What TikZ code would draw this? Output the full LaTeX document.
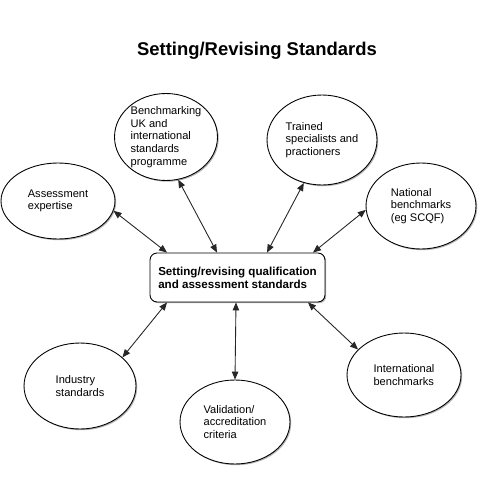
\documentclass[tikz,border=0pt]{standalone}
\usepackage{fontspec}
\setmainfont{Liberation Sans}
\usetikzlibrary{arrows.meta,shapes.geometric,shadows}

\begin{document}
\begin{tikzpicture}[x=0.02cm,y=-0.02cm,>={Triangle[length=1.6mm,width=1.3mm]},line cap=round,
  bubble/.style={ellipse,draw,line width=0.5pt,fill=white,inner sep=-3pt,align=left,
    font=\fontsize{6.3}{7.2}\selectfont,
    drop shadow={shadow xshift=0.7pt,shadow yshift=-0.7pt,fill=black!30,opacity=1}},
  hubbox/.style={rectangle,rounded corners=4pt,draw,line width=0.5pt,fill=white,align=left,
    font=\fontsize{6.6}{7.4}\selectfont\bfseries,minimum width=3.5cm,minimum height=0.98cm,
    drop shadow={shadow xshift=0.7pt,shadow yshift=-0.7pt,fill=black!30,opacity=1}},
  link/.style={<->,line width=0.5pt,black!85}]
\fill[white] (0,0) rectangle (500,500);
\node[font=\fontsize{10.5}{12}\selectfont\bfseries] (title) at (257,51) {Setting/Revising Standards};
\node[hubbox] (hub) at (237.5,277.5) {Setting/revising qualification\\and assessment standards};
% satellites
\node[bubble,minimum width=2.28cm,minimum height=1.52cm] (assess) at (58,201) {Assessment\\expertise};
\node[bubble,minimum width=2.06cm,minimum height=1.74cm] (bench) at (166,137) {Benchmarking\\UK and\\international\\standards\\programme};
\node[bubble,minimum width=2.2cm,minimum height=1.8cm] (trained) at (322,140) {Trained\\specialists and\\practioners};
\node[bubble,minimum width=2.2cm,minimum height=1.72cm] (national) at (421,206) {National\\benchmarks\\(eg SCQF)};
\node[bubble,minimum width=2.24cm,minimum height=1.72cm] (industry) at (80,386) {Industry\\standards};
\node[bubble,minimum width=2.2cm,minimum height=1.68cm] (valid) at (235,422) {Validation/\\accreditation\\criteria};
\node[bubble,minimum width=2.28cm,minimum height=1.68cm] (intl) at (404,375) {International\\benchmarks};
% connectors
\draw[link] (assess.-10) -- ([xshift=-1.41cm]hub.north);
\draw[link] (bench.-74) -- ([xshift=-0.41cm]hub.north);
\draw[link] (trained.-113) -- ([xshift=0.59cm]hub.north);
\draw[link] (national.184) -- ([xshift=1.51cm]hub.north);
\draw[link] (industry.34) -- ([xshift=-1.41cm]hub.south);
\draw[link] (valid.north) -- ([xshift=-0.03cm]hub.south);
\draw[link] (intl.151) -- ([xshift=1.41cm]hub.south);
\end{tikzpicture}
\end{document}
